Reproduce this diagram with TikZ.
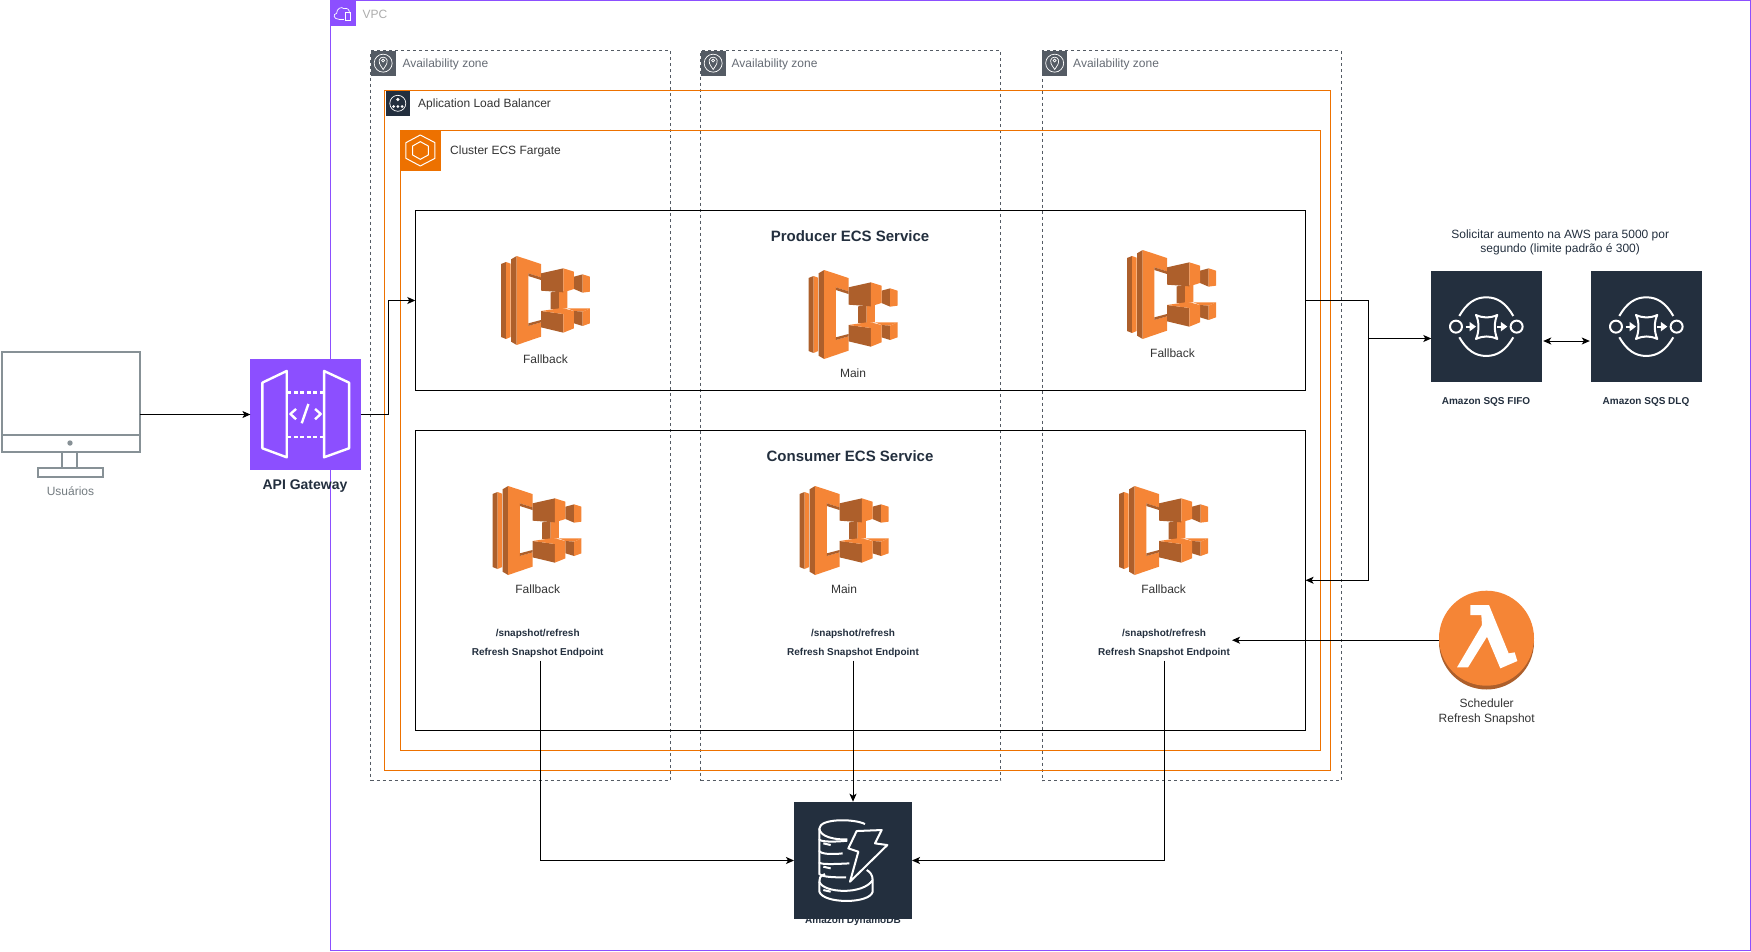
\documentclass[tikz,border=0pt]{standalone}
\usepackage{fontspec}
\setmainfont{Liberation Sans}
\usetikzlibrary{arrows.meta}
\definecolor{vpcpurple}{HTML}{8C4FFF}
\definecolor{awsnavy}{HTML}{232F3E}
\definecolor{awsorange}{HTML}{ED7100}
\definecolor{ecslight}{HTML}{F58536}
\definecolor{ecsdark}{HTML}{AD5F2B}
\definecolor{azgrey}{HTML}{545B64}
\definecolor{pcgrey}{HTML}{879196}
\tikzset{
  zonebox/.style={draw,anchor=north west,inner sep=0pt,outer sep=0pt},
  azbox/.style={zonebox,draw=azgrey,dashed,dash pattern=on 3pt off 3pt,minimum height=730pt},
  albbox/.style={zonebox,draw=awsorange},
  svcbox/.style={zonebox,draw=black,minimum width=890.3pt},
  iconbox/.style={zonebox,draw=none,fill=#1,minimum width=110.4pt,minimum height=110.4pt},
  lbl/.style={font=\fontsize{12}{14.7}\selectfont,text=black!80,inner sep=0pt,align=center},
  lbll/.style={lbl,anchor=west},
  azlbl/.style={lbll,text=azgrey!90},
  boldlbl/.style={font=\fontsize{10}{12}\selectfont\bfseries,text=awsnavy,inner sep=0pt},
  titlelbl/.style={font=\fontsize{15}{18}\selectfont\bfseries,text=awsnavy,inner sep=0pt},
  flow/.style={->,black,line width=1pt},
  iconline/.style={white,line width=2pt,line join=round},
  ecsicon/.pic={
    \begin{scope}[x=.3333pt,y=-.3333pt,shift={(-63,-48)}]
      \fill[ecsdark] (63,72) -- (78,66) -- (78,297) -- (63,291) -- cycle;
      \fill[ecslight] (78,66) -- (92,71) -- (92,291) -- (78,297) -- cycle;
      \fill[ecsdark] (93,58) -- (110,48) -- (110,315) -- (93,305) -- cycle;
      \fill[ecslight] (110,48) -- (183,72) -- (183,112) -- (145,100) -- (145,258) -- (183,247) -- (183,290) -- (110,315) -- cycle;
      \fill[ecsdark] (145,100) -- (183,112) -- (183,120) -- (145,108) -- cycle;
      \fill[ecsdark] (145,250) -- (183,240) -- (183,247) -- (145,258) -- cycle;
      \fill[ecsdark] (212,157) -- (237,155) -- (237,207) -- (212,207) -- cycle;
      \fill[ecslight] (237,155) -- (262,152) -- (262,205) -- (237,207) -- cycle;
      \fill[ecsdark] (282,110) -- (308,103) -- (308,158) -- (282,147) -- cycle;
      \fill[ecslight] (308,103) -- (330,110) -- (330,155) -- (308,158) -- cycle;
      \fill[ecsdark] (183,100) -- (250,85) -- (250,157) -- (183,152) -- cycle;
      \fill[ecslight] (250,85) -- (282,95) -- (282,147) -- (250,157) -- cycle;
      \fill[ecslight] (262,205) -- (330,205) -- (308,215) -- (282,213) -- cycle;
      \fill[ecsdark] (282,213) -- (308,215) -- (308,258) -- (282,250) -- cycle;
      \fill[ecslight] (308,215) -- (330,205) -- (330,250) -- (308,258) -- cycle;
      \fill[ecsdark] (183,213) -- (250,222) -- (250,278) -- (183,262) -- cycle;
      \fill[ecslight] (183,213) -- (245,204) -- (282,213) -- (282,265) -- (250,278) -- (250,222) -- cycle;
    \end{scope}
  },
  sqsicon/.pic={
    \begin{scope}[x=.3333pt,y=-.3333pt,shift={(-94,-154)}]
      \draw[iconline] (178,288) .. controls (200,250) and (225,232) .. (259,232) .. controls (293,232) and (318,250) .. (340,288);
      \draw[iconline] (178,352) .. controls (200,390) and (225,408) .. (259,408) .. controls (293,408) and (318,390) .. (340,352);
      \draw[iconline] (168,320) circle[radius=6pt];
      \draw[iconline] (350,320) circle[radius=6pt];
      \draw[iconline] (228,285) .. controls (250,295) and (270,295) .. (292,285) .. controls (282,305) and (282,335) .. (292,357) .. controls (270,347) and (250,347) .. (228,357) .. controls (238,335) and (238,305) .. (228,285) -- cycle;
      \draw[iconline] (197,320) -- (212,320);
      \draw[iconline] (292,320) -- (305,320);
      \fill[white] (209,306) -- (228,320) -- (209,334) -- cycle;
      \fill[white] (303,306) -- (322,320) -- (303,334) -- cycle;
    \end{scope}
  },
  apiicon/.pic={
    \begin{scope}[x=.3333pt,y=-.3333pt,shift={(-751,-58)}]
      \draw[iconline,line width=2.4pt] (787,128) -- (860,93) -- (860,352) -- (787,325) -- cycle;
      \draw[iconline,line width=2.4pt] (972,93) -- (1047,128) -- (1047,325) -- (972,352) -- cycle;
      \draw[iconline,line width=2.4pt,dash pattern=on 4pt off 2.5pt] (862,158) -- (972,158);
      \draw[iconline,line width=2.4pt,dash pattern=on 4pt off 2.5pt] (862,291) -- (972,291);
      \draw[iconline,line width=2.4pt] (888,207) -- (871,222) -- (888,238);
      \draw[iconline,line width=2.4pt] (945,207) -- (962,222) -- (945,238);
      \draw[iconline,line width=2.4pt] (925,192) -- (905,250);
    \end{scope}
  },
  dynamoicon/.pic={
    \begin{scope}[x=.3333pt,y=-.3333pt,shift={(-102,-65)}]
      \draw[iconline] (315,132) .. controls (280,115) and (178,115) .. (178,146) -- (178,178) .. controls (180,186) and (225,186) .. (262,182);
      \draw[iconline] (178,146) .. controls (180,170) and (225,180) .. (262,178);
      \draw[iconline] (178,178) -- (178,212) .. controls (180,222) and (215,224) .. (248,220);
      \draw[iconline] (178,212) -- (178,248) .. controls (185,254) and (230,252) .. (268,250);
      \draw[iconline] (178,248) -- (178,282) .. controls (190,292) and (225,292) .. (258,292);
      \draw[iconline] (195,282) .. controls (178,288) and (178,296) .. (178,305) -- (178,335) .. controls (190,372) and (330,372) .. (338,335) -- (338,300) .. controls (338,285) and (330,275) .. (320,270);
      \draw[iconline] (178,305) .. controls (190,340) and (310,345) .. (338,300);
      \draw[iconline] (290,153) -- (365,150) -- (345,190) -- (382,195) -- (270,305) -- (295,215) -- (265,205) -- cycle;
      \draw[iconline] (190,190) -- (212,195);
      \draw[iconline] (190,260) -- (212,265);
      \draw[iconline] (190,330) -- (212,335);
    \end{scope}
  },
  lambdaicon/.pic={
    \begin{scope}[x=.3333pt,y=-.3333pt,shift={(-1078,-62)}]
      \fill[white] (1172,105) -- (1228,105) -- (1287,250) -- (1305,247) -- (1313,273) -- (1262,295) -- (1222,200) -- (1165,292) -- (1132,292) -- (1207,165) -- (1205,135) -- (1172,135) -- cycle;
    \end{scope}
  },
  azicon/.pic={
    \fill[azgrey] (0,0) rectangle (25,25);
    \begin{scope}[x=.3333pt,y=-.3333pt,shift={(-151,-151)}]
      \draw[white,line width=.7pt] (189,189) circle[radius=9pt];
      \draw[white,line width=.7pt] (189,208) .. controls (178,192) and (175,186) .. (177,180) .. controls (180,168) and (198,168) .. (201,180) .. controls (203,186) and (200,192) .. (189,208) -- cycle;
      \draw[white,line width=.7pt] (189,181) circle[radius=1.5pt];
    \end{scope}
  },
}
\begin{document}
\begin{tikzpicture}[x=1pt,y=-1pt,>={Stealth[length=8pt,width=7pt,inset=2pt]}]
  \useasboundingbox (0,0) rectangle (1751,951);

  \node[zonebox,draw=vpcpurple,minimum width=1420pt,minimum height=950pt] (vpc) at (330.5,.5) {};
  \fill[vpcpurple] (330.5,0) rectangle (355.5,25.5);
  \begin{scope}[x=.3333pt,y=-.3333pt,shift={(960,0)}]
    \draw[white,line width=.7pt] (58,58) .. controls (40,58) and (38,42) .. (50,40) .. controls (50,26) and (64,18) .. (72,26) .. controls (82,22) and (90,30) .. (88,40);
    \draw[white,line width=.7pt] (58,58) -- (72,58);
    \draw[white,line width=.7pt] (76,36) rectangle (92,62);
  \end{scope}
  \node[lbll,text=black!30!gray!50] (vpclbl) at (362.3,14.2) {VPC};

  \foreach \az/\x/\w/\tx in {azA/370.5/299.5/402.3,azB/700.5/300/731.5,azC/1042/299/1073}{
    \node[azbox,minimum width=\w pt] (\az) at (\x,50.5) {};
    \pic at (\x,50.5) {azicon};
    \node[azlbl] (\az lbl) at (\tx,64.8) {Availability zone};
  }

  \node[albbox,minimum width=945.5pt,minimum height=680pt] (alb) at (384.5,90.5) {};
  \fill[awsnavy] (385.7,91) rectangle (410,115.7);
  \draw[white,line width=.7pt] (397.8,103.3) circle[radius=8pt];
  \fill[white] (397.8,99.5) circle[radius=1.8pt] (393.5,106.5) circle[radius=1.5pt] (397.8,106.5) circle[radius=1.5pt] (402.1,106.5) circle[radius=1.5pt];
  \node[lbll] (alblbl) at (418,104.8) {Aplication Load Balancer};

  \node[albbox,minimum width=919.5pt,minimum height=620pt] (cluster) at (400.5,130.5) {};
  \fill[awsorange] (400.5,130.5) rectangle (440.5,170.5);
  \begin{scope}[x=.3333pt,y=-.3333pt,shift={(960,0)}]
    \draw[white,line width=1pt,line join=round] (301,405) -- (345,428) -- (345,475) -- (301,498) -- (258,475) -- (258,428) -- cycle;
    \draw[white,line width=1pt,line join=round] (301,425) -- (325,438) -- (325,465) -- (301,478) -- (278,465) -- (278,438) -- cycle;
  \end{scope}
  \node[lbll] (clusterlbl) at (450,151.2) {Cluster ECS Fargate};

  \node[svcbox,minimum height=180pt] (producer) at (415.3,210.5) {};
  \node[svcbox,minimum height=299.5pt] (consumer) at (415.3,430.5) {};
  \node[titlelbl] (producerlbl) at (850,236.6) {Producer ECS Service};
  \node[titlelbl] (consumerlbl) at (850,456.6) {Consumer ECS Service};

  \foreach \ecs/\x/\y/\tx/\ty/\txt in {
      prodA/501/256/545.5/359/Fallback,
      prodB/808.5/270/853/373/Main,
      prodC/1127/250/1172.5/353/Fallback,
      consA/492.5/486/537.7/589/Fallback,
      consB/799.5/486/844/589/Main,
      consC/1119/486/1163.6/589/Fallback}{
    \pic at (\x,\y) {ecsicon};
    \node[lbl] (\ecs lbl) at (\tx,\ty) {\txt};
  }

  \foreach \ep/\x in {A/537.7,B/853,C/1164}{
    \node[boldlbl] (snapshot\ep) at (\x,634) {/snapshot/refresh};
    \node[boldlbl] (refresh\ep) at (\x,652.5) {Refresh Snapshot Endpoint};
  }

  \node[zonebox,draw=pcgrey,line width=2pt,minimum width=137.8pt,minimum height=100pt] (monitor) at (1.7,351.7) {};
  \node[zonebox,draw=pcgrey,line width=2pt,minimum width=64.7pt,minimum height=8.7pt] (monitorbase) at (38,468) {};
  \draw[pcgrey,line width=2pt] (1.7,434.7) -- (139.5,434.7);
  \draw[pcgrey,line width=2pt] (62.3,451.7) -- (62.3,468) (77.3,451.7) -- (77.3,468);
  \fill[pcgrey] (70,443) circle[radius=2.7pt];
  \node[lbl,text=pcgrey!85!black] (monitorlbl) at (70.5,490.7) {Usuários};

  \node[iconbox=vpcpurple] (apigw) at (250.4,359.3) {};
  \pic at (apigw.north west) {apiicon};
  \node[font=\fontsize{14}{16}\selectfont\bfseries,text=awsnavy,inner sep=0pt] (apigwlbl) at (305,485.8) {API Gateway};

  \node[iconbox=awsnavy] (sqsfifo) at (1431.3,271.3) {};
  \node[iconbox=awsnavy] (sqsdlq) at (1591.3,271.3) {};
  \pic at (sqsfifo.north west) {sqsicon};
  \pic at (sqsdlq.north west) {sqsicon};
  \node[boldlbl] (sqsfifolbl) at (1486,401.5) {Amazon SQS FIFO};
  \node[boldlbl] (sqsdlqlbl) at (1646,401.5) {Amazon SQS DLQ};
  \node[lbl,text=awsnavy] (sqsnote) at (1560.2,242.5) {Solicitar aumento na AWS para 5000 por\\segundo (limite padrão é 300)};

  \node[boldlbl] (dynamolbl) at (853,921) {Amazon DynamoDB};
  \node[iconbox=awsnavy,minimum width=118pt,minimum height=117.6pt] (dynamo) at (794,801.7) {};
  \pic at (dynamo.north west) {dynamoicon};

  \fill[ecsdark] (1486.5,642) circle[radius=47.5pt];
  \node[circle,fill=ecslight,minimum size=95pt,inner sep=0pt,outer sep=0pt] (lambda) at (1486.5,638.2) {};
  \pic at (lambda.west |- lambda.north) {lambdaicon};
  \node[lbl] (lambdalbl) at (1486.7,711.8) {Scheduler\\Refresh Snapshot};

  \coordinate (trunk) at (1368,338.5);
  \coordinate (tapA) at (540.5,660.5);
  \draw[flow] (monitor.east |- apigw.west) -- (apigw.west);
  \draw[flow] (apigw.east) -- ++(27.9,0) |- (producer.west);
  \draw[flow] (producer.east) -- (producer.east -| trunk) |- (consumer.east);
  \draw[flow] (trunk) -- (trunk -| sqsfifo.west);
  \draw[flow,<->] ([yshift=-14.5pt,xshift=1.5pt]sqsfifo.east) -- ([yshift=-14.5pt,xshift=-1.5pt]sqsdlq.west);
  \draw[flow] ([yshift=-2pt]lambda.west) -- ([yshift=-2pt,xshift=2pt]lambda.west -| refreshC.east);
  \draw[flow] (tapA) |- (dynamo.west);
  \draw[flow] (refreshB.south |- tapA) -- (dynamo.north);
  \draw[flow] (refreshC.south |- tapA) |- (dynamo.east);
\end{tikzpicture}
\end{document}
